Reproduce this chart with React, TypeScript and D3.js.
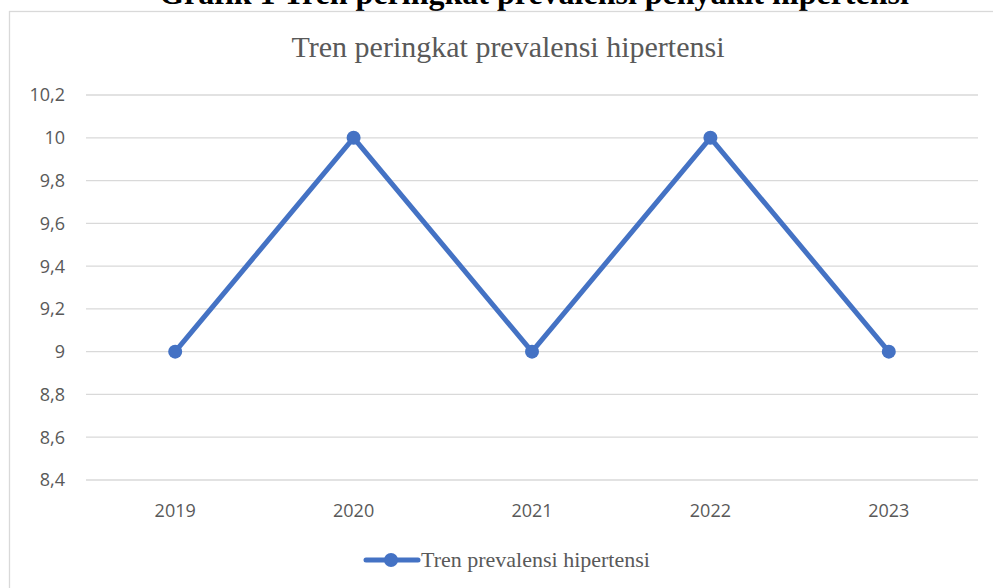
import * as React from "react";
import * as d3 from "d3";

const years = ["2019", "2020", "2021", "2022", "2023"];
const rankValues = [9, 10, 9, 10, 9];
const yTicks = [8.4, 8.6, 8.8, 9, 9.2, 9.4, 9.6, 9.8, 10, 10.2];

const W = 993;
const H = 588;
const blue = "#4472C4";
const gray = "#595959";

export default function App() {
  const ref = React.useRef<SVGSVGElement>(null);

  React.useEffect(() => {
    const svg = d3.select(ref.current);
    svg.selectAll("*").remove();

    const x = d3.scaleBand().domain(years).range([86, 978]);
    const y = d3.scaleLinear().domain([8.4, 10.2]).range([480, 95]);
    const fmt = (d: number) => d3.format(".1~f")(d).replace(".", ",");

    svg.append("rect").attr("width", W).attr("height", H).attr("fill", "white");

    // document heading, cut off at the top like the source
    svg.append("text")
      .attr("x", 534).attr("y", 4)
      .attr("text-anchor", "middle")
      .style("font-family", "'Liberation Serif', 'Times New Roman', serif")
      .style("font-weight", "bold")
      .style("font-size", "32px")
      .text("Grafik 1 Tren peringkat prevalensi penyakit hipertensi");

    // chart border
    svg.append("rect")
      .attr("x", 9.5).attr("y", 11.5)
      .attr("width", W + 10).attr("height", H + 10)
      .attr("fill", "none").attr("stroke", "#d9d9d9").attr("stroke-width", 1.3);

    svg.append("text")
      .attr("x", 508).attr("y", 57)
      .attr("text-anchor", "middle")
      .attr("fill", gray)
      .style("font-family", "'Liberation Serif', 'Times New Roman', serif")
      .style("font-size", "30px")
      .text("Tren peringkat prevalensi hipertensi");

    const grid = svg.append("g");
    grid.selectAll("line").data(yTicks).enter().append("line")
      .attr("x1", 86).attr("x2", 978)
      .attr("y1", d => y(d)).attr("y2", d => y(d))
      .attr("stroke", "#d9d9d9").attr("stroke-width", 1.3);

    const labelFont = "'Open Sans', sans-serif";
    svg.append("g").selectAll("text").data(yTicks).enter().append("text")
      .attr("x", 65).attr("y", d => y(d))
      .attr("dy", "0.36em")
      .attr("text-anchor", "end")
      .attr("fill", gray)
      .style("font-family", labelFont)
      .style("font-size", "18px")
      .text(d => fmt(d));

    svg.append("g").selectAll("text").data(years).enter().append("text")
      .attr("x", d => (x(d) as number) + x.bandwidth() / 2)
      .attr("y", 517)
      .attr("text-anchor", "middle")
      .attr("fill", gray)
      .style("font-family", labelFont)
      .style("font-size", "18px")
      .text(d => d);

    const pts = years.map((yr, i) => ({ yr, v: rankValues[i] }));
    const line = d3.line<{ yr: string; v: number }>()
      .x(d => (x(d.yr) as number) + x.bandwidth() / 2)
      .y(d => y(d.v));

    svg.append("path")
      .datum(pts)
      .attr("d", line)
      .attr("fill", "none")
      .attr("stroke", blue)
      .attr("stroke-width", 5)
      .attr("stroke-linejoin", "round");

    svg.append("g").selectAll("circle").data(pts).enter().append("circle")
      .attr("cx", d => (x(d.yr) as number) + x.bandwidth() / 2)
      .attr("cy", d => y(d.v))
      .attr("r", 7)
      .attr("fill", blue);

    // legend
    const lg = svg.append("g").attr("transform", "translate(366,560)");
    lg.append("line").attr("x1", 0).attr("x2", 52).attr("y1", 0).attr("y2", 0)
      .attr("stroke", blue).attr("stroke-width", 5).attr("stroke-linecap", "round");
    lg.append("circle").attr("cx", 25).attr("cy", 0).attr("r", 7).attr("fill", blue);
    lg.append("text")
      .attr("x", 55).attr("y", 0).attr("dy", "0.33em")
      .attr("fill", gray)
      .style("font-family", "'Liberation Serif', 'Times New Roman', serif")
      .style("font-size", "22px")
      .text("Tren prevalensi hipertensi");
  }, []);

  return (
    <svg ref={ref} width={W} height={H}
      style={{ position: "absolute", left: 0, top: 0, display: "block" }} />
  );
}
